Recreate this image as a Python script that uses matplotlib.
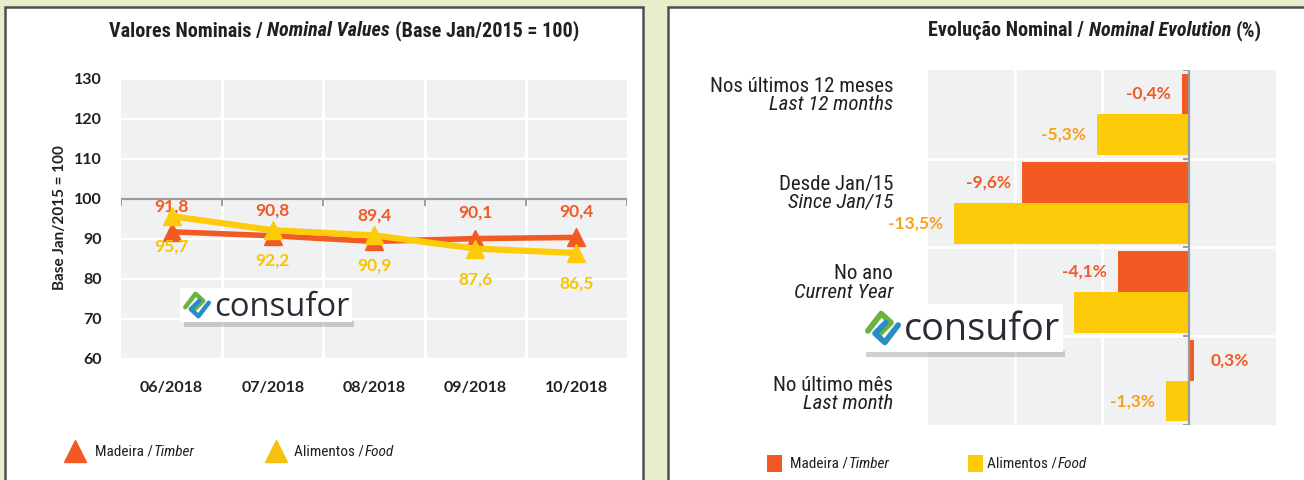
import matplotlib
matplotlib.use('Agg')
import matplotlib.pyplot as plt
from matplotlib.patches import Rectangle
from matplotlib.lines import Line2D
from matplotlib.transforms import blended_transform_factory

# ---------------- data ----------------
months = ['06/2018', '07/2018', '08/2018', '09/2018', '10/2018']
timber_idx = [91.8, 90.8, 89.4, 90.1, 90.4]
food_idx = [95.7, 92.2, 90.9, 87.6, 86.5]
left_yticks = [60, 70, 80, 90, 100, 110, 120, 130]

periods_pt = ['Nos últimos 12 meses', 'Desde Jan/15', 'No ano', 'No último mês']
periods_en = ['Last 12 months', 'Since Jan/15', 'Current Year', 'Last month']
timber_chg = [-0.4, -9.6, -4.1, 0.3]
food_chg = [-5.3, -13.5, -6.6, -1.3]
food_label_shown = [True, True, False, True]   # the 'No ano' food label is hidden under the logo

# ---------------- style ----------------
W, H = 1304, 480
BG = '#e8edcb'
PLOT_BG = '#f0f1f3'
RED = '#f15a22'
YEL = '#fecb0a'
YEL_LBL = '#f8c400'
ORG_LBL = '#f7a01b'
DARK = '#231f20'
NARROW = ['Roboto Condensed', 'DejaVu Sans']
NUMF = ['Lato', 'DejaVu Sans']

fig = plt.figure(figsize=(W / 100, H / 100), dpi=100)
fig.patch.set_facecolor(BG)


def rect(x0, y0, x1, y1):
    return [x0 / W, 1 - y1 / H, (x1 - x0) / W, (y1 - y0) / H]


def fx(px):
    return px / W


def fy(py):
    return 1 - py / H


renderer = fig.canvas.get_renderer()


def rich(x_px, y_px, parts, align='left', gap=0.0, **kw):
    texts = []
    for s, st in parts:
        t = fig.text(0, fy(y_px), s, style=st, ha='left', va='center', **kw)
        texts.append(t)
    widths = [t.get_window_extent(renderer).width for t in texts]
    total = sum(widths) + gap * (len(texts) - 1)
    if align == 'center':
        cur = x_px - total / 2
    elif align == 'right':
        cur = x_px - total
    else:
        cur = x_px
    for t, w in zip(texts, widths):
        t.set_x(fx(cur))
        cur += w + gap


# panels
for (x0, x1) in [(5, 643), (668, 1320)]:
    fig.patches.append(Rectangle((fx(x0), fy(495)), fx(x1) - fx(x0), fy(7) - fy(495),
                                 transform=fig.transFigure, facecolor='white',
                                 edgecolor='#4f4f4f', lw=1.8, zorder=-5))

# ---------------- left chart ----------------
ax = fig.add_axes(rect(121, 79, 627, 359))
ax.set_facecolor(PLOT_BG)
ax.set_xlim(-0.5, len(months) - 0.5)
ax.set_ylim(left_yticks[0], left_yticks[-1])
for y in left_yticks:
    ax.axhline(y, color='white', lw=1.6, zorder=0.5)
for i in range(len(months) - 1):
    ax.axvline(i + 0.5, color='white', lw=2, zorder=0.5)
ax.axhline(100, color='#9b9b9b', lw=1.6, zorder=1)
for i in range(len(months) + 1):
    ax.plot([i - 0.5, i - 0.5], [100, 98.6], color='#9b9b9b', lw=1.4, zorder=1)
for s in ax.spines.values():
    s.set_visible(False)
xs = list(range(len(months)))
ax.plot(xs, timber_idx, color=RED, lw=4, marker='^', ms=13, zorder=3)
ax.plot(xs, food_idx, color=YEL, lw=4.5, marker='^', ms=13, zorder=4)
for x, v in zip(xs, timber_idx):
    ax.annotate(f'{v:.1f}'.replace('.', ','), (x, v), xytext=(0, 18.5), textcoords='offset points',
                ha='center', va='center', color=RED, fontsize=12.5, fontweight='bold', family=NUMF)
for x, v in zip(xs, food_idx):
    ax.annotate(f'{v:.1f}'.replace('.', ','), (x, v), xytext=(0, -22), textcoords='offset points',
                ha='center', va='center', color=YEL_LBL, fontsize=12.5, fontweight='bold', family=NUMF)
ax.set_yticks(left_yticks)
ax.set_yticklabels([str(v) for v in left_yticks], fontweight='bold', fontsize=11.5, family=NUMF, color=DARK)
ax.set_xticks(xs)
ax.set_xticklabels(months, fontweight='bold', fontsize=11.5, family=NUMF, color=DARK)
ax.tick_params(axis='y', length=0, pad=14)
ax.tick_params(axis='x', length=0, pad=16)

fig.text(fx(60), fy(218), 'Base Jan/2015 = 100', rotation=90, ha='center', va='center',
         fontsize=11, fontweight='bold', family=NUMF, color=DARK)
rich(344, 31, [('Valores Nominais /', 'normal'), ('Nominal Values', 'italic'),
               ('(Base Jan/2015 = 100)', 'normal')], align='center', gap=5,
     fontsize=14.5, fontweight='bold', family=NARROW, color=DARK)

# left legend
fig.lines.append(Line2D([fx(75)], [fy(451)], marker='^', ms=16, color=RED, transform=fig.transFigure))
rich(95, 452, [('Madeira /', 'normal'), ('Timber', 'italic')], gap=1,
     fontsize=11, family=NARROW, color=DARK)
fig.lines.append(Line2D([fx(276)], [fy(451)], marker='^', ms=16, color='#f7c10f', transform=fig.transFigure))
rich(294, 452, [('Alimentos /', 'normal'), ('Food', 'italic')], gap=1,
     fontsize=11, family=NARROW, color=DARK)

# ---------------- right chart ----------------
ax2 = fig.add_axes(rect(928, 70, 1276, 425))
ax2.set_facecolor(PLOT_BG)
ax2.set_xlim(-15, 5)
ax2.set_ylim(len(periods_pt) - 0.5, -0.5)
for x in [-10, -5]:
    ax2.axvline(x, color='white', lw=2, zorder=0.5)
for i in range(len(periods_pt) - 1):
    ax2.axhline(i + 0.5, color='white', lw=2, zorder=0.5)
for s in ax2.spines.values():
    s.set_visible(False)
ax2.set_xticks([])
ax2.set_yticks([])
ys = list(range(len(periods_pt)))
bh = 0.46
ax2.barh([y - bh / 2 for y in ys], timber_chg, height=bh, color=RED, zorder=2)
ax2.barh([y + bh / 2 for y in ys], food_chg, height=bh, color=YEL, zorder=2)
ax2.axvline(0, color='#9b9b9b', lw=1.6, zorder=3)
for i in range(len(periods_pt) + 1):
    ax2.plot([0, -0.3], [i - 0.5, i - 0.5], color='#9b9b9b', lw=1.4, zorder=3)
for y, v in zip(ys, timber_chg):
    off = -8 if v < 0 else 12
    ax2.annotate(f'{v:.1f}%'.replace('.', ','), (v, y - bh / 2), xytext=(off, 0), textcoords='offset points',
                 ha='right' if v < 0 else 'left', va='center', color=RED, fontsize=12.5,
                 fontweight='bold', family=NUMF)
for y, v, shown in zip(ys, food_chg, food_label_shown):
    if not shown:
        continue
    off = -8 if v < 0 else 12
    ax2.annotate(f'{v:.1f}%'.replace('.', ','), (v, y + bh / 2), xytext=(off, 0), textcoords='offset points',
                 ha='right' if v < 0 else 'left', va='center', color=ORG_LBL, fontsize=12.5,
                 fontweight='bold', family=NUMF)

label_shift = [-0.21, -0.11, -0.10, 0.16]
tr = blended_transform_factory(fig.transFigure, ax2.transData)
for y, pt, en, sh in zip(ys, periods_pt, periods_en, label_shift):
    ax2.annotate(pt, (fx(893), y + sh), xycoords=tr, xytext=(0, 6.5), textcoords='offset points',
                 ha='right', va='center', fontsize=15, family=NARROW, color=DARK)
    ax2.annotate(en, (fx(893), y + sh), xycoords=tr, xytext=(0, -6.5), textcoords='offset points',
                 ha='right', va='center', fontsize=15, style='italic', family=NARROW, color=DARK)

rich(1262, 31, [('Evolução Nominal /', 'normal'), ('Nominal Evolution', 'italic'), ('(%)', 'normal')],
     align='right', gap=5, fontsize=14.5, fontweight='bold', family=NARROW, color=DARK)

# right legend
fig.patches.append(Rectangle((fx(767), fy(472)), fx(15), 17 / H, transform=fig.transFigure,
                             facecolor=RED, edgecolor='none'))
rich(790, 464, [('Madeira /', 'normal'), ('Timber', 'italic')], gap=1,
     fontsize=11, family=NARROW, color=DARK)
fig.patches.append(Rectangle((fx(968), fy(472)), fx(15), 17 / H, transform=fig.transFigure,
                             facecolor='#fdcb0a', edgecolor='none'))
rich(987, 464, [('Alimentos /', 'normal'), ('Food', 'italic')], gap=1,
     fontsize=11, family=NARROW, color=DARK)


# ---------------- logos ----------------
def logo(x0, y0, x1, y1, fs, icon):
    h = y1 - y0
    fig.patches.append(Rectangle((fx(x0 + 4), fy(y1 + 5)), fx(x1 - x0 - 2), 6 / H,
                                 transform=fig.transFigure, facecolor='#8a8a8a',
                                 edgecolor='none', alpha=0.4, zorder=9))
    fig.patches.append(Rectangle((fx(x0), fy(y1)), fx(x1 - x0), h / H, transform=fig.transFigure,
                                 facecolor='white', edgecolor='none', zorder=10))
    s = icon
    cx, cy = x0 + 3 + s / 2, (y0 + y1) / 2
    g = [(cx - s * 0.42, cy + s * 0.08), (cx - s * 0.05, cy - s * 0.40), (cx + s * 0.22, cy - s * 0.15),
         (cx - s * 0.08, cy + s * 0.15)]
    b = [(cx + s * 0.42, cy - s * 0.08), (cx + s * 0.05, cy + s * 0.40), (cx - s * 0.22, cy + s * 0.15),
         (cx + s * 0.08, cy - s * 0.15)]
    lw = s * 0.16 * 0.72
    fig.lines.append(Line2D([fx(p[0]) for p in g], [fy(p[1]) for p in g], color='#6cb33f', lw=lw,
                            solid_capstyle='round', solid_joinstyle='round', transform=fig.transFigure, zorder=11))
    fig.lines.append(Line2D([fx(p[0]) for p in b], [fy(p[1]) for p in b], color='#2b8cc4', lw=lw,
                            solid_capstyle='round', solid_joinstyle='round', transform=fig.transFigure, zorder=11))
    t = fig.text(fx(x0 + s + 6), fy(cy + 2), 'consufor', ha='left', va='center', fontsize=fs,
                 family=['Open Sans', 'DejaVu Sans'], color='#2b2a35', zorder=12)
    # spread letters to fill the box width like the logo
    w = t.get_window_extent(renderer).width
    target = x1 - 3 - (x0 + s + 6)
    t.set_fontsize(fs * min(1.15, target / w))


logo(180, 288, 352, 322, 21, 28)
logo(862, 304, 1063, 352, 25, 36)

fig.savefig('out.png', dpi=100, facecolor=fig.get_facecolor())
